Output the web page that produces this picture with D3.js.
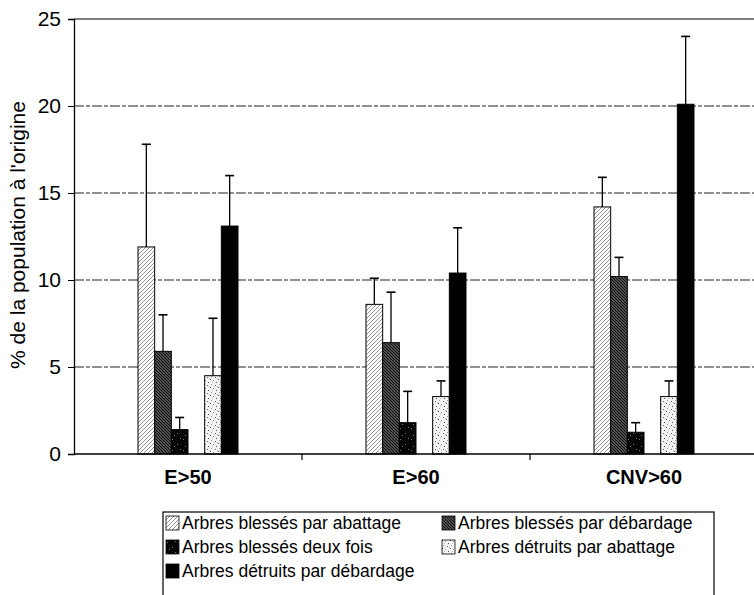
<!DOCTYPE html>
<html>
<head>
<meta charset="utf-8">
<script src="https://cdn.jsdelivr.net/npm/d3@7"></script>
<style>
  body { margin: 0; background: #fff; }
  text { font-family: Arial, "Liberation Sans", sans-serif; fill: #000; }
</style>
</head>
<body>
<div id="chart"></div>
<script>
// categories and series
var categories = ["E>50", "E>60", "CNV>60"];
var seriesNames = [
  "Arbres blessés par abattage",
  "Arbres blessés par débardage",
  "Arbres blessés deux fois",
  "Arbres détruits par abattage",
  "Arbres détruits par débardage"
];
// bar slots: the 4th slot is left empty in the original
var slots = ["s1", "s2", "s3", "gap", "s4", "s5"];
var seriesSlot = ["s1", "s2", "s3", "s4", "s5"];

// values (% de la population), one array per series, in category order
var blessesAbattage   = [11.9, 8.6, 14.2];
var blessesDebardage  = [5.9, 6.4, 10.2];
var blessesDeuxFois   = [1.4, 1.8, 1.25];
var detruitsAbattage  = [4.5, 3.3, 3.3];
var detruitsDebardage = [13.1, 10.4, 20.1];

// upper end of the error bars
var errBlessesAbattage   = [17.8, 10.1, 15.9];
var errBlessesDebardage  = [8.0, 9.3, 11.3];
var errBlessesDeuxFois   = [2.1, 3.6, 1.8];
var errDetruitsAbattage  = [7.8, 4.2, 4.2];
var errDetruitsDebardage = [16.0, 13.0, 24.0];

var yTicks = [0, 5, 10, 15, 20, 25];

var values = [blessesAbattage, blessesDebardage, blessesDeuxFois, detruitsAbattage, detruitsDebardage];
var errors = [errBlessesAbattage, errBlessesDebardage, errBlessesDeuxFois, errDetruitsAbattage, errDetruitsDebardage];

var data = [];
values.forEach((vals, si) => {
  vals.forEach((v, ci) => {
    data.push({ cat: categories[ci], slot: seriesSlot[si], series: si, value: v, err: errors[si][ci] });
  });
});

var W = 754, H = 595;
var margin = { left: 74, top: 19 };
var width = 684, height = 435;

var svg = d3.select("#chart").append("svg")
  .attr("width", W).attr("height", H);

// fill patterns (scanned black & white look)
var defs = svg.append("defs");

var p1 = defs.append("pattern").attr("id", "pat0")
  .attr("patternUnits", "userSpaceOnUse").attr("width", 4).attr("height", 4);
p1.append("rect").attr("width", 4).attr("height", 4).attr("fill", "#fff");
p1.append("path").attr("d", "M-1,1 L1,-1 M0,4 L4,0 M3,5 L5,3")
  .attr("stroke", "#666").attr("stroke-width", 0.7);

var p2 = defs.append("pattern").attr("id", "pat1")
  .attr("patternUnits", "userSpaceOnUse").attr("width", 3).attr("height", 3);
p2.append("rect").attr("width", 3).attr("height", 3).attr("fill", "#ddd");
p2.append("path").attr("d", "M-1,-1 L4,4 M-1,2 L1,4 M2,-1 L4,1")
  .attr("stroke", "#111").attr("stroke-width", 1.6);

var p3 = defs.append("pattern").attr("id", "pat2")
  .attr("patternUnits", "userSpaceOnUse").attr("width", 11).attr("height", 11);
p3.append("rect").attr("width", 11).attr("height", 11).attr("fill", "#050505");
[[1, 2], [6, 7], [9, 1], [3, 9]].forEach((d) => {
  p3.append("rect").attr("x", d[0]).attr("y", d[1]).attr("width", 1).attr("height", 1).attr("fill", "#777");
});

var p4 = defs.append("pattern").attr("id", "pat3")
  .attr("patternUnits", "userSpaceOnUse").attr("width", 8).attr("height", 8);
p4.append("rect").attr("width", 8).attr("height", 8).attr("fill", "#f4f4f4");
[[0, 0, "#555"], [3, 1, "#999"], [6, 3, "#555"], [1, 5, "#999"], [5, 6, "#666"], [2, 3, "#bbb"], [7, 7, "#aaa"]].forEach((d) => {
  p4.append("rect").attr("x", d[0]).attr("y", d[1]).attr("width", 1).attr("height", 1).attr("fill", d[2]);
});

var fills = ["url(#pat0)", "url(#pat1)", "url(#pat2)", "url(#pat3)", "#000"];

var g = svg.append("g")
  .attr("transform", "translate(" + margin.left + "," + margin.top + ")");

// scales
var x0 = d3.scaleBand().domain(categories).range([0, width]);
var groupW = 100;
var x1 = d3.scaleBand().domain(slots).range([0, groupW]);
var y = d3.scaleLinear().domain([0, 25]).range([height, 0]);

// gridlines
g.append("g")
  .selectAll("line")
  .data(yTicks.filter((d) => d > 0 && d < 25))
  .enter().append("line")
    .attr("x1", 0).attr("x2", W)
    .attr("y1", (d) => y(d)).attr("y2", (d) => y(d))
    .attr("stroke", "#222")
    .attr("stroke-width", 1)
    .attr("stroke-dasharray", "10,2,4,2");

// top border
g.append("line")
  .attr("x1", 0).attr("x2", W).attr("y1", y(25)).attr("y2", y(25))
  .attr("stroke", "#000").attr("stroke-width", 1.2);

// Y axis
var yAxis = g.append("g")
  .call(d3.axisLeft(y).tickValues(yTicks).tickSize(6).tickPadding(7));
yAxis.select(".domain").attr("stroke-width", 1.3);
yAxis.selectAll("text").style("font-size", "21px");

// bars
var bars = g.append("g")
  .selectAll("g")
  .data(data)
  .enter().append("g")
    .attr("transform", (d) => "translate(" + (x0(d.cat) + (x0.bandwidth() - groupW) / 2) + ",0)");

bars.append("rect")
  .attr("x", (d) => x1(d.slot))
  .attr("y", (d) => y(d.value))
  .attr("width", x1.bandwidth())
  .attr("height", (d) => y(0) - y(d.value))
  .attr("fill", (d) => fills[d.series])
  .attr("stroke", "#000")
  .attr("stroke-width", 1);

// error bars (upper only)
bars.append("line")
  .attr("x1", (d) => x1(d.slot) + x1.bandwidth() / 2)
  .attr("x2", (d) => x1(d.slot) + x1.bandwidth() / 2)
  .attr("y1", (d) => y(d.value))
  .attr("y2", (d) => y(d.err))
  .attr("stroke", "#000").attr("stroke-width", 1.3);

bars.append("line")
  .attr("x1", (d) => x1(d.slot) + x1.bandwidth() / 2 - 4.5)
  .attr("x2", (d) => x1(d.slot) + x1.bandwidth() / 2 + 4.5)
  .attr("y1", (d) => y(d.err))
  .attr("y2", (d) => y(d.err))
  .attr("stroke", "#000").attr("stroke-width", 1.6);

// X axis
var xAxis = g.append("g")
  .attr("transform", "translate(0," + height + ")");
xAxis.append("line")
  .attr("x1", 0).attr("x2", W).attr("stroke", "#000").attr("stroke-width", 1.3);
xAxis.selectAll(".sep")
  .data(categories.slice(1))
  .enter().append("line")
    .attr("x1", (d) => x0(d)).attr("x2", (d) => x0(d))
    .attr("y1", 0).attr("y2", 6)
    .attr("stroke", "#000").attr("stroke-width", 1.2);
xAxis.selectAll(".lbl")
  .data(categories)
  .enter().append("text")
    .attr("x", (d) => x0(d) + x0.bandwidth() / 2)
    .attr("y", 30)
    .attr("text-anchor", "middle")
    .style("font-size", "20px")
    .style("font-weight", "bold")
    .text((d) => d);

// Y title
svg.append("text")
  .attr("transform", "translate(25," + (margin.top + 216) + ") rotate(-90)")
  .attr("text-anchor", "middle")
  .style("font-size", "21px")
  .text("% de la population à l'origine");

// legend
var leg = svg.append("g").attr("transform", "translate(163,512)");
leg.append("rect")
  .attr("x", 0).attr("y", 0).attr("width", 551).attr("height", 100)
  .attr("fill", "#fff").attr("stroke", "#000").attr("stroke-width", 1.2);

var legItems = leg.selectAll(".item")
  .data(seriesNames)
  .enter().append("g")
    .attr("transform", (d, i) => "translate(" + (i % 2 === 0 ? 3 : 279) + "," + (4 + Math.floor(i / 2) * 24) + ")");

legItems.append("rect")
  .attr("width", 13).attr("height", 14)
  .attr("fill", (d, i) => fills[i])
  .attr("stroke", "#000").attr("stroke-width", 0.8);

legItems.append("text")
  .attr("x", 16).attr("y", 13)
  .style("font-size", "17.5px")
  .text((d) => d);
</script>
</body>
</html>
